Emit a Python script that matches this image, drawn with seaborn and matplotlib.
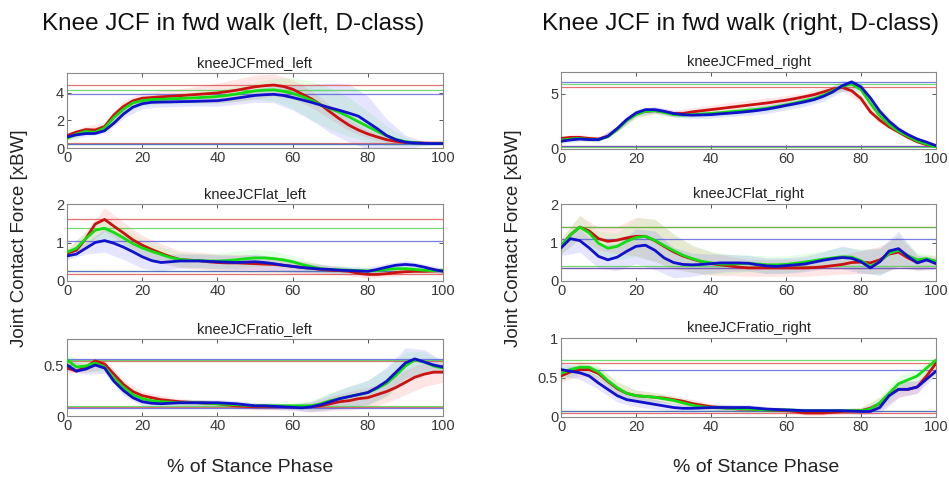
import numpy as np
import pandas as pd
import matplotlib
matplotlib.use("Agg")
import matplotlib.pyplot as plt
from matplotlib.ticker import FuncFormatter
import seaborn as sns

# ---------------------------------------------------------------------------
# Data: mean knee joint contact force curves over stance (0-100 %, 2.5 % steps)
# and their standard deviations (5 % steps) for three groups (red/green/blue).
# ---------------------------------------------------------------------------
stance_pct = np.arange(0, 100.01, 2.5)
band_pct = np.arange(0, 100.01, 5.0)
groups = ["red", "green", "blue"]

med_left_r = [
    0.90, 1.15, 1.33, 1.30, 1.55, 2.40, 3.00, 3.40, 3.60, 3.65,
    3.70, 3.74, 3.78, 3.83, 3.88, 3.93, 3.98, 4.07, 4.17, 4.30,
    4.42, 4.50, 4.55, 4.45, 4.25, 3.90, 3.55, 3.13, 2.60, 2.10,
    1.65, 1.30, 1.02, 0.80, 0.60, 0.48, 0.41, 0.38, 0.36, 0.35,
    0.35]
med_left_g = [
    0.70, 1.00, 1.20, 1.13, 1.45, 2.20, 2.80, 3.25, 3.42, 3.50,
    3.52, 3.55, 3.58, 3.61, 3.64, 3.68, 3.72, 3.80, 3.90, 4.02,
    4.12, 4.18, 4.20, 4.10, 3.95, 3.72, 3.45, 3.12, 2.85, 2.58,
    2.25, 1.90, 1.55, 1.20, 0.88, 0.62, 0.46, 0.38, 0.33, 0.32,
    0.32]
med_left_b = [
    0.80, 0.95, 1.04, 1.05, 1.25, 1.80, 2.45, 2.95, 3.20, 3.30,
    3.32, 3.33, 3.35, 3.36, 3.38, 3.40, 3.42, 3.50, 3.60, 3.70,
    3.80, 3.85, 3.88, 3.80, 3.65, 3.48, 3.30, 3.10, 2.90, 2.72,
    2.52, 2.30, 1.85, 1.40, 0.90, 0.60, 0.42, 0.36, 0.33, 0.32,
    0.32]

lat_left_r = [
    0.72, 0.80, 1.10, 1.48, 1.60, 1.42, 1.25, 1.07, 0.93, 0.82,
    0.72, 0.63, 0.56, 0.54, 0.53, 0.50, 0.48, 0.47, 0.47, 0.46,
    0.45, 0.44, 0.43, 0.41, 0.38, 0.35, 0.33, 0.30, 0.28, 0.27,
    0.25, 0.20, 0.17, 0.17, 0.19, 0.22, 0.24, 0.25, 0.25, 0.26,
    0.27]
lat_left_g = [
    0.75, 0.85, 1.10, 1.32, 1.37, 1.26, 1.12, 0.97, 0.86, 0.77,
    0.69, 0.61, 0.56, 0.54, 0.53, 0.52, 0.52, 0.53, 0.55, 0.58,
    0.60, 0.60, 0.58, 0.55, 0.50, 0.43, 0.37, 0.32, 0.30, 0.29,
    0.28, 0.27, 0.26, 0.27, 0.30, 0.32, 0.32, 0.30, 0.28, 0.27,
    0.27]
lat_left_b = [
    0.65, 0.70, 0.85, 1.00, 1.05, 0.98, 0.88, 0.76, 0.63, 0.53,
    0.48, 0.50, 0.52, 0.52, 0.52, 0.51, 0.50, 0.49, 0.48, 0.49,
    0.50, 0.48, 0.45, 0.41, 0.38, 0.35, 0.33, 0.31, 0.30, 0.28,
    0.27, 0.26, 0.25, 0.30, 0.36, 0.41, 0.43, 0.41, 0.36, 0.30,
    0.25]

ratio_left_r = [
    0.47, 0.44, 0.48, 0.54, 0.51, 0.41, 0.31, 0.24, 0.20, 0.18,
    0.16, 0.15, 0.14, 0.135, 0.13, 0.125, 0.12, 0.11, 0.10, 0.095,
    0.09, 0.09, 0.09, 0.09, 0.09, 0.09, 0.09, 0.10, 0.12, 0.14,
    0.15, 0.17, 0.18, 0.21, 0.24, 0.28, 0.33, 0.38, 0.41, 0.43,
    0.43]
ratio_left_g = [
    0.55, 0.48, 0.49, 0.52, 0.48, 0.37, 0.28, 0.21, 0.17, 0.15,
    0.14, 0.135, 0.13, 0.13, 0.13, 0.125, 0.12, 0.115, 0.11, 0.105,
    0.10, 0.10, 0.10, 0.10, 0.10, 0.10, 0.10, 0.12, 0.15, 0.17,
    0.19, 0.21, 0.23, 0.27, 0.32, 0.40, 0.49, 0.55, 0.53, 0.49,
    0.47]
ratio_left_b = [
    0.50, 0.44, 0.46, 0.50, 0.47, 0.34, 0.25, 0.18, 0.14, 0.125,
    0.12, 0.125, 0.13, 0.13, 0.13, 0.13, 0.13, 0.125, 0.12, 0.11,
    0.10, 0.10, 0.095, 0.09, 0.085, 0.08, 0.09, 0.11, 0.14, 0.17,
    0.19, 0.21, 0.23, 0.28, 0.34, 0.43, 0.52, 0.56, 0.53, 0.50,
    0.48]

med_right_r = [
    0.95, 1.05, 1.05, 0.95, 0.90, 1.15, 1.80, 2.60, 3.15, 3.40,
    3.45, 3.35, 3.20, 3.20, 3.35, 3.45, 3.55, 3.65, 3.75, 3.85,
    3.95, 4.05, 4.15, 4.28, 4.40, 4.55, 4.72, 4.90, 5.15, 5.40,
    5.55, 5.25, 4.55, 3.35, 2.60, 2.00, 1.53, 1.05, 0.65, 0.38,
    0.25]
med_right_g = [
    0.80, 0.90, 0.95, 0.85, 0.85, 1.10, 1.75, 2.55, 3.10, 3.40,
    3.45, 3.30, 3.10, 3.05, 3.10, 3.15, 3.20, 3.27, 3.35, 3.42,
    3.50, 3.58, 3.68, 3.82, 3.98, 4.15, 4.35, 4.55, 4.85, 5.25,
    5.65, 5.85, 5.35, 4.10, 3.00, 2.20, 1.60, 1.15, 0.72, 0.45,
    0.20]
med_right_b = [
    0.70, 0.82, 0.90, 0.85, 0.85, 1.15, 1.85, 2.65, 3.25, 3.55,
    3.55, 3.40, 3.20, 3.10, 3.05, 3.07, 3.10, 3.17, 3.23, 3.30,
    3.38, 3.48, 3.60, 3.75, 3.92, 4.08, 4.25, 4.45, 4.75, 5.15,
    5.70, 6.05, 5.60, 4.60, 3.40, 2.50, 1.80, 1.30, 0.90, 0.62,
    0.30]

lat_right_r = [
    0.90, 1.20, 1.40, 1.30, 1.10, 1.03, 1.06, 1.12, 1.16, 1.16,
    1.05, 0.90, 0.76, 0.65, 0.57, 0.50, 0.45, 0.42, 0.39, 0.36,
    0.34, 0.34, 0.34, 0.34, 0.34, 0.34, 0.34, 0.35, 0.37, 0.40,
    0.43, 0.48, 0.49, 0.47, 0.55, 0.70, 0.75, 0.60, 0.48, 0.55,
    0.51]
lat_right_g = [
    0.90, 1.20, 1.40, 1.25, 0.98, 0.85, 0.90, 1.03, 1.13, 1.16,
    1.06, 0.92, 0.79, 0.67, 0.58, 0.51, 0.47, 0.44, 0.44, 0.45,
    0.46, 0.44, 0.42, 0.42, 0.43, 0.46, 0.49, 0.53, 0.57, 0.60,
    0.63, 0.62, 0.53, 0.38, 0.50, 0.72, 0.80, 0.66, 0.55, 0.58,
    0.51]
lat_right_b = [
    0.86, 1.10, 1.05, 0.86, 0.64, 0.55, 0.62, 0.77, 0.90, 0.93,
    0.80, 0.60, 0.48, 0.43, 0.42, 0.43, 0.45, 0.47, 0.47, 0.47,
    0.46, 0.42, 0.39, 0.38, 0.40, 0.42, 0.44, 0.49, 0.54, 0.58,
    0.61, 0.59, 0.50, 0.34, 0.50, 0.78, 0.84, 0.64, 0.47, 0.55,
    0.45]

ratio_right_r = [
    0.52, 0.57, 0.60, 0.60, 0.55, 0.45, 0.36, 0.30, 0.27, 0.26,
    0.25, 0.24, 0.22, 0.20, 0.17, 0.15, 0.13, 0.12, 0.11, 0.10,
    0.10, 0.095, 0.09, 0.085, 0.08, 0.07, 0.05, 0.05, 0.05, 0.06,
    0.07, 0.075, 0.08, 0.11, 0.17, 0.28, 0.35, 0.35, 0.38, 0.52,
    0.68]
ratio_right_g = [
    0.55, 0.60, 0.63, 0.63, 0.57, 0.46, 0.37, 0.30, 0.27, 0.26,
    0.25, 0.23, 0.21, 0.18, 0.15, 0.13, 0.12, 0.115, 0.11, 0.105,
    0.10, 0.095, 0.09, 0.09, 0.09, 0.085, 0.08, 0.08, 0.08, 0.08,
    0.08, 0.08, 0.08, 0.10, 0.18, 0.30, 0.42, 0.47, 0.52, 0.62,
    0.72]
ratio_right_b = [
    0.60, 0.58, 0.56, 0.52, 0.43, 0.35, 0.27, 0.22, 0.20, 0.18,
    0.16, 0.14, 0.12, 0.11, 0.11, 0.115, 0.12, 0.12, 0.12, 0.12,
    0.12, 0.11, 0.10, 0.095, 0.09, 0.085, 0.08, 0.08, 0.08, 0.08,
    0.08, 0.075, 0.07, 0.07, 0.12, 0.27, 0.35, 0.35, 0.38, 0.48,
    0.58]

# standard deviations at 0, 5, ..., 100 %
sd_med_left_r = [0.20, 0.25, 0.30, 0.40, 0.40, 0.45, 0.50, 0.60, 0.70, 0.80, 0.85,
                 0.80, 0.70, 0.60, 0.50, 0.40, 0.30, 0.20, 0.12, 0.08, 0.08]
sd_med_left_g = [0.20, 0.20, 0.25, 0.35, 0.35, 0.35, 0.40, 0.45, 0.50, 0.55, 0.60,
                 0.80, 1.10, 1.40, 1.50, 1.40, 1.10, 0.70, 0.30, 0.12, 0.08]
sd_med_left_b = [0.20, 0.20, 0.20, 0.30, 0.35, 0.35, 0.35, 0.35, 0.40, 0.45, 0.50,
                 0.60, 0.90, 1.30, 1.80, 2.10, 1.90, 1.20, 0.50, 0.15, 0.08]

sd_lat_left_r = [0.10, 0.20, 0.30, 0.28, 0.25, 0.25, 0.22, 0.22, 0.22, 0.22, 0.22,
                 0.20, 0.18, 0.15, 0.12, 0.10, 0.10, 0.08, 0.08, 0.08, 0.08]
sd_lat_left_g = [0.10, 0.18, 0.25, 0.25, 0.22, 0.20, 0.18, 0.18, 0.20, 0.22, 0.22,
                 0.20, 0.16, 0.12, 0.10, 0.10, 0.10, 0.08, 0.08, 0.08, 0.08]
sd_lat_left_b = [0.10, 0.15, 0.30, 0.32, 0.30, 0.22, 0.18, 0.18, 0.18, 0.18, 0.20,
                 0.18, 0.15, 0.12, 0.10, 0.10, 0.10, 0.10, 0.10, 0.08, 0.08]

sd_ratio_left_r = [0.05, 0.05, 0.05, 0.04, 0.04, 0.04, 0.03, 0.03, 0.03, 0.03, 0.03,
                   0.03, 0.03, 0.05, 0.07, 0.09, 0.10, 0.11, 0.12, 0.12, 0.10]
sd_ratio_left_g = [0.05, 0.05, 0.05, 0.05, 0.04, 0.03, 0.03, 0.03, 0.03, 0.03, 0.03,
                   0.03, 0.03, 0.05, 0.08, 0.10, 0.12, 0.14, 0.14, 0.10, 0.06]
sd_ratio_left_b = [0.05, 0.05, 0.05, 0.05, 0.04, 0.03, 0.03, 0.03, 0.03, 0.03, 0.03,
                   0.03, 0.03, 0.05, 0.08, 0.10, 0.12, 0.14, 0.15, 0.12, 0.06]

sd_med_right_r = [0.25, 0.25, 0.20, 0.25, 0.30, 0.30, 0.30, 0.35, 0.40, 0.45, 0.45,
                  0.45, 0.40, 0.35, 0.35, 0.35, 0.35, 0.30, 0.20, 0.12, 0.08]
sd_med_right_g = [0.20, 0.20, 0.20, 0.25, 0.25, 0.25, 0.25, 0.25, 0.28, 0.30, 0.30,
                  0.30, 0.30, 0.30, 0.35, 0.40, 0.35, 0.25, 0.15, 0.10, 0.06]
sd_med_right_b = [0.20, 0.20, 0.20, 0.25, 0.30, 0.30, 0.30, 0.30, 0.30, 0.30, 0.35,
                  0.40, 0.40, 0.40, 0.45, 0.50, 0.40, 0.30, 0.20, 0.12, 0.08]

sd_lat_right_r = [0.20, 0.30, 0.30, 0.35, 0.50, 0.55, 0.45, 0.35, 0.30, 0.25, 0.22,
                  0.22, 0.22, 0.22, 0.22, 0.25, 0.30, 0.35, 0.40, 0.20, 0.15]
sd_lat_right_g = [0.20, 0.30, 0.30, 0.35, 0.50, 0.55, 0.45, 0.35, 0.30, 0.25, 0.22,
                  0.22, 0.22, 0.22, 0.22, 0.25, 0.30, 0.35, 0.40, 0.20, 0.15]
sd_lat_right_b = [0.20, 0.30, 0.30, 0.35, 0.45, 0.50, 0.40, 0.30, 0.25, 0.22, 0.20,
                  0.20, 0.20, 0.20, 0.22, 0.30, 0.30, 0.35, 0.45, 0.20, 0.15]

sd_ratio_right_r = [0.08, 0.08, 0.08, 0.08, 0.07, 0.06, 0.05, 0.05, 0.04, 0.04, 0.04,
                    0.03, 0.03, 0.03, 0.03, 0.03, 0.04, 0.08, 0.10, 0.08, 0.05]
sd_ratio_right_g = [0.08, 0.08, 0.08, 0.08, 0.07, 0.06, 0.05, 0.05, 0.04, 0.04, 0.04,
                    0.03, 0.03, 0.03, 0.03, 0.03, 0.04, 0.08, 0.10, 0.08, 0.05]
sd_ratio_right_b = [0.08, 0.08, 0.08, 0.08, 0.07, 0.06, 0.05, 0.05, 0.04, 0.04, 0.04,
                    0.03, 0.03, 0.03, 0.03, 0.03, 0.04, 0.08, 0.10, 0.08, 0.05]

titles_main = ["Knee JCF in fwd walk (left, D-class)",
               "Knee JCF in fwd walk (right, D-class)"]
x_label = "% of Stance Phase"
y_label = "Joint Contact Force [xBW]"
x_ticks = [0, 20, 40, 60, 80, 100]

# ---------------------------------------------------------------------------
# Styling
# ---------------------------------------------------------------------------
sns.set_theme(style="white")
plt.rcParams["font.family"] = ["Liberation Sans", "DejaVu Sans"]

line_colors = {"red": "#cc1111", "green": "#11dd11", "blue": "#1111cc"}
band_colors = {"red": "#ff6060", "green": "#60ff60", "blue": "#6060ff"}
ref_colors = {"red": "#e04040", "green": "#40d040", "blue": "#5050dd"}
text_grey = "#383838"

W, H = 949, 484
fig = plt.figure(figsize=(W / 100, H / 100), dpi=100)


def px_axes(left, top, right, bottom):
    return fig.add_axes([left / W, 1 - bottom / H, (right - left) / W, (bottom - top) / H])


panels = [
    # (box in pixels, subplot title, means, sds, ylim, yticks)
    ((67, 73, 443, 148), "kneeJCFmed_left",
     (med_left_r, med_left_g, med_left_b),
     (sd_med_left_r, sd_med_left_g, sd_med_left_b), (0, 5.42), [0, 2, 4]),
    ((67, 204, 443, 281), "kneeJCFlat_left",
     (lat_left_r, lat_left_g, lat_left_b),
     (sd_lat_left_r, sd_lat_left_g, sd_lat_left_b), (0, 2), [0, 1, 2]),
    ((67, 339, 443, 416), "kneeJCFratio_left",
     (ratio_left_r, ratio_left_g, ratio_left_b),
     (sd_ratio_left_r, sd_ratio_left_g, sd_ratio_left_b), (0, 0.755), [0, 0.5]),
    ((561, 72, 936, 149), "kneeJCFmed_right",
     (med_right_r, med_right_g, med_right_b),
     (sd_med_right_r, sd_med_right_g, sd_med_right_b), (0, 6.94), [0, 5]),
    ((561, 204, 936, 281), "kneeJCFlat_right",
     (lat_right_r, lat_right_g, lat_right_b),
     (sd_lat_right_r, sd_lat_right_g, sd_lat_right_b), (0, 2), [0, 1, 2]),
    ((561, 338, 936, 417), "kneeJCFratio_right",
     (ratio_right_r, ratio_right_g, ratio_right_b),
     (sd_ratio_right_r, sd_ratio_right_g, sd_ratio_right_b), (0, 1), [0, 0.5, 1]),
]

for box, title, means, sds, ylim, yticks in panels:
    ax = px_axes(*box)

    # shaded +/- SD bands
    for g, m, s in zip(groups, means, sds):
        m_band = np.asarray(m)[::2]
        s = np.asarray(s)
        ax.fill_between(band_pct, m_band - s, m_band + s, color=band_colors[g],
                        alpha=0.16, linewidth=0, zorder=1)

    # reference lines at each curve's peak and trough
    for g, m in zip(groups, means):
        ax.axhline(max(m), color=ref_colors[g], lw=0.9, alpha=0.75, zorder=2)
        ax.axhline(min(m), color=ref_colors[g], lw=0.9, alpha=0.75, zorder=2)

    # mean curves
    df = pd.DataFrame({
        "pct": np.tile(stance_pct, 3),
        "force": np.concatenate([np.asarray(m, dtype=float) for m in means]),
        "group": np.repeat(groups, len(stance_pct)),
    })
    sns.lineplot(data=df, x="pct", y="force", hue="group", palette=line_colors,
                 hue_order=groups, linewidth=2.0, legend=False, ax=ax, zorder=3)

    ax.set_xlim(0, 100)
    ax.set_ylim(*ylim)
    ax.set_xticks(x_ticks)
    ax.set_yticks(yticks)
    ax.yaxis.set_major_formatter(FuncFormatter(lambda v, p: f"{v:g}"))
    ax.set_xlabel("")
    ax.set_ylabel("")
    ax.set_title(title, fontsize=10.5, color="#222222", pad=4)
    ax.tick_params(direction="in", length=3, width=0.7, colors="#555555",
                   labelcolor=text_grey, labelsize=10.5, top=True, right=True,
                   bottom=True, left=True, pad=2)
    for sp in ax.spines.values():
        sp.set_color("#8a8a8a")
        sp.set_linewidth(0.8)
        sp.set_visible(True)

# column titles and shared axis labels
fig.text(233 / W, 1 - 24 / H, titles_main[0], ha="center", va="center",
         fontsize=17.5, color="#111111")
fig.text(740 / W, 1 - 24 / H, titles_main[1], ha="center", va="center",
         fontsize=17.5, color="#111111")
fig.text(20 / W, 1 - 238 / H, y_label, rotation=90, ha="center", va="center",
         fontsize=13.5, color="#222222")
fig.text(514 / W, 1 - 238 / H, y_label, rotation=90, ha="center", va="center",
         fontsize=13.5, color="#222222")
fig.text(250 / W, 1 - 467 / H, x_label, ha="center", va="center",
         fontsize=14, color="#222222")
fig.text(756 / W, 1 - 467 / H, x_label, ha="center", va="center",
         fontsize=14, color="#222222")

fig.savefig("out.png", dpi=100)
